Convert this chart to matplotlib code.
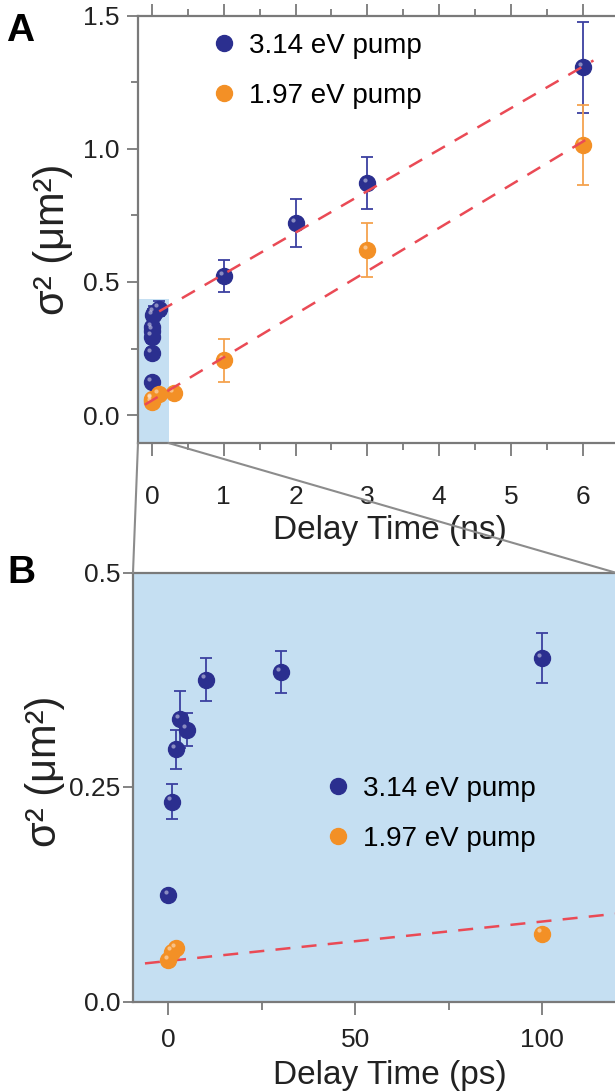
import numpy as np
import matplotlib.pyplot as plt
from matplotlib.patches import Rectangle, ConnectionPatch
from matplotlib.lines import Line2D
from matplotlib.transforms import ScaledTranslation
from matplotlib.ticker import MultipleLocator, FixedLocator

plt.rcParams['font.family'] = ['Liberation Sans', 'DejaVu Sans']

# short-delay data (ps)
blue_ps = [0, 1, 2, 3, 5, 10, 30, 100]
blue_ps_y = [0.124, 0.233, 0.294, 0.329, 0.317, 0.375, 0.384, 0.400]
blue_ps_err = [0.004, 0.020, 0.023, 0.033, 0.019, 0.025, 0.025, 0.029]
orange_ps = [0, 1, 2, 100]
orange_ps_y = [0.048, 0.058, 0.062, 0.079]
orange_ps_err = [0.003, 0.003, 0.003, 0.004]

# long-delay data (ns)
blue_ns = [1, 2, 3, 6]
blue_ns_y = [0.522, 0.720, 0.871, 1.306]
blue_ns_err = [0.060, 0.090, 0.097, 0.170]
orange_ns = [0.3, 1, 3, 6]
orange_ns_y = [0.082, 0.206, 0.620, 1.015]
orange_ns_err = [0.004, 0.080, 0.100, 0.150]

# linear fits
fit_a_blue = (0.1558, 0.374)     # slope per ns, intercept
fit_a_orange = (0.162, 0.055)
fit_b_orange = (0.000459, 0.0473)  # slope per ps

labels = ["3.14 eV pump", "1.97 eV pump"]
BLUE = "#2b2f8f"
BLUE_E = "#3b40a0"
ORANGE = "#f39026"
ORANGE_E = "#f5a24e"
RED = "#ea4a55"
SHADE = "#c5dff2"
SPINE = "#7a7a7a"
TXT = "#222222"
MS = 11.5
DASH = dict(ls=(0, (6, 4.5)), color=RED, lw=1.8)

W, H = 615, 1092
fig = plt.figure(figsize=(W / 100, H / 100), dpi=100)

def px_axes(l, t, r, b):
    return fig.add_axes([l / W, 1 - b / H, (r - l) / W, (b - t) / H])

axA = px_axes(138, 15.8, 615, 443)
axB = px_axes(133, 572.5, 615, 1001.5)


def spheres(ax, x, y, err, c, ce, zo=3):
    ax.errorbar(x, y, yerr=err, fmt='none', ecolor=ce, elinewidth=1.3,
                capsize=4.5, capthick=1.3, zorder=zo)
    ax.plot(x, y, 'o', ms=MS, color=c, mec=c, zorder=zo + 1)
    hl = ax.transData + ScaledTranslation(-2 / 72, 2.5 / 72, fig.dpi_scale_trans)
    ax.plot(x, y, 'o', ms=3, color='white', alpha=0.45, mew=0,
            transform=hl, zorder=zo + 2)


def style(ax, fs=19):
    ax.spines['right'].set_visible(False)
    for s in ['left', 'bottom', 'top']:
        ax.spines[s].set_color(SPINE)
        ax.spines[s].set_linewidth(1.6)
    ax.tick_params(which='both', color=SPINE, width=1.3, labelsize=fs,
                   labelcolor=TXT)


def legend(ax, top_px):
    h = [Line2D([], [], ls='none', marker='o', ms=MS, color=BLUE),
         Line2D([], [], ls='none', marker='o', ms=MS, color=ORANGE)]
    ax.legend(h, labels, loc='upper left', bbox_to_anchor=top_px,
              bbox_transform=fig.transFigure, frameon=False, fontsize=20,
              handlelength=0.8, handletextpad=0.5, labelspacing=0.85,
              borderpad=0, borderaxespad=0)


# ---- panel A ----
xA = (-0.195, 6.45)
axA.set_xlim(*xA)
axA.set_ylim(-0.105, 1.5)
axA.add_patch(Rectangle((xA[0], -0.105), 0.23 - xA[0], 0.437 + 0.105,
                        facecolor=SHADE, edgecolor='none', zorder=0))
xs = np.array([0.1, 6.15])
axA.plot(xs, fit_a_blue[0] * xs + fit_a_blue[1], zorder=6, **DASH)
xs = np.array([-0.1, 6.1])
axA.plot(xs, fit_a_orange[0] * xs + fit_a_orange[1], zorder=6, **DASH)

spheres(axA, np.array(blue_ps) / 1000, blue_ps_y, blue_ps_err, BLUE, BLUE_E)
spheres(axA, blue_ns, blue_ns_y, blue_ns_err, BLUE, BLUE_E)
spheres(axA, np.array(orange_ps) / 1000, orange_ps_y, orange_ps_err, ORANGE, ORANGE_E)
spheres(axA, orange_ns, orange_ns_y, orange_ns_err, ORANGE, ORANGE_E)

style(axA)
axA.xaxis.set_major_locator(FixedLocator([0, 1, 2, 3, 4, 5, 6]))
axA.xaxis.set_minor_locator(MultipleLocator(0.5))
axA.yaxis.set_major_locator(FixedLocator([0, 0.5, 1.0, 1.5]))
axA.yaxis.set_minor_locator(MultipleLocator(0.25))
axA.set_yticklabels(["0.0", "0.5", "1.0", "1.5"])
axA.tick_params(axis='x', which='major', length=9, pad=21, top=True)
axA.tick_params(axis='x', which='minor', length=5, top=True)
axA.tick_params(axis='y', which='major', length=8, pad=5)
axA.tick_params(axis='y', which='minor', length=5)
axA.set_xlabel("Delay Time (ns)", fontsize=24, va='center', color=TXT)
axA.xaxis.set_label_coords(0.528, -0.204)
axA.set_ylabel("σ² (μm²)", fontsize=30, va='center', color=TXT)
axA.yaxis.set_label_coords(-0.178, 0.4775)
legend(axA, (213 / W, 1 - 33 / H))

# ---- panel B ----
axB.set_facecolor(SHADE)
axB.set_xlim(-9.5, 119.5)
axB.set_ylim(0, 0.5)
xs = np.array([-6.3, 125])
axB.plot(xs, fit_b_orange[0] * xs + fit_b_orange[1], zorder=2, **DASH)
spheres(axB, blue_ps, blue_ps_y, blue_ps_err, BLUE, BLUE_E)
spheres(axB, orange_ps, orange_ps_y, orange_ps_err, ORANGE, ORANGE_E)

style(axB)
axB.xaxis.set_major_locator(FixedLocator([0, 50, 100]))
axB.xaxis.set_minor_locator(FixedLocator([25, 75, 125]))
axB.yaxis.set_major_locator(FixedLocator([0, 0.25, 0.5]))
axB.set_yticklabels(["0.0", "0.25", "0.5"])
axB.tick_params(axis='x', which='major', length=9, pad=10)
axB.tick_params(axis='x', which='minor', length=6)
axB.tick_params(axis='y', which='major', length=7, pad=2)
axB.set_xlabel("Delay Time (ps)", fontsize=24, va='center', color=TXT)
axB.xaxis.set_label_coords(0.533, -0.172)
axB.set_ylabel("σ² (μm²)", fontsize=30, va='center', color=TXT)
axB.yaxis.set_label_coords(-0.1826, 0.537)
legend(axB, (327 / W, 1 - 776 / H))

# zoom connectors
for xa, xb in [(xA[0], 0), (0.23, 1)]:
    con = ConnectionPatch(xyA=(xa, -0.105), coordsA=axA.transData,
                          xyB=(xb, 1), coordsB=axB.transAxes,
                          color="#8c8c8c", lw=1.5, zorder=10)
    fig.add_artist(con)

fig.text(20 / W, 1 - 31 / H, "A", fontsize=28, fontweight='bold', ha='center', va='center')
fig.text(21 / W, 1 - 573 / H, "B", fontsize=28, fontweight='bold', ha='center', va='center')

fig.savefig("out.png", dpi=100)
